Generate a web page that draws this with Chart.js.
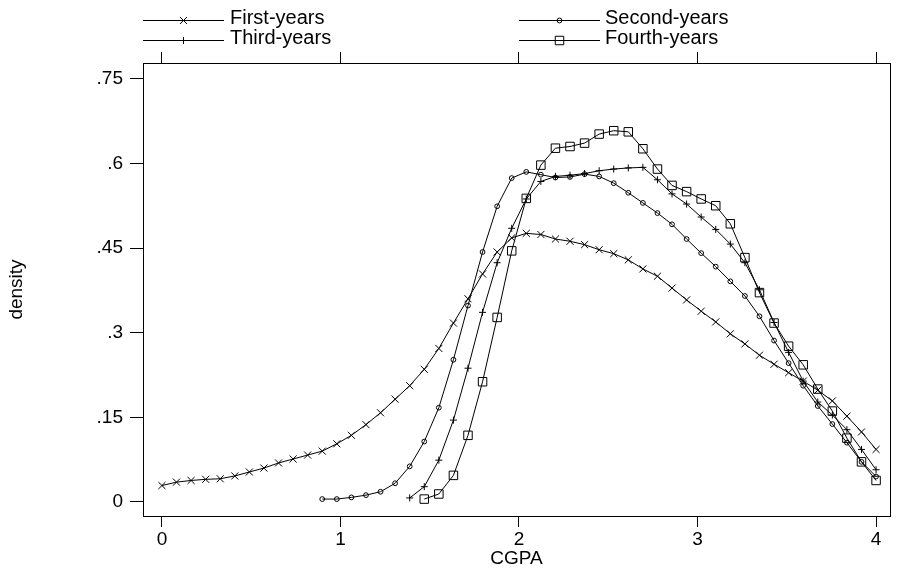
<!DOCTYPE html>
<html>
<head>
<meta charset="utf-8">
<title>CGPA density</title>
<script src="https://cdn.jsdelivr.net/npm/chart.js@4.4.0/dist/chart.umd.min.js"></script>
<style>
    body { margin: 0; background: #ffffff; }
    #wrap { width: 897px; height: 570px; }
</style>
</head>
<body>
<div id="wrap"><canvas id="densplot" width="897" height="570"></canvas></div>
<script>
// kdensity grid (50 points from 0 to 4), shared by all four groups
let cgpa = [0, 0.0816, 0.1633, 0.2449, 0.3265, 0.4082, 0.4898, 0.5714, 0.6531, 0.7347,
    0.8163, 0.8980, 0.9796, 1.0612, 1.1429, 1.2245, 1.3061, 1.3878, 1.4694, 1.5510,
    1.6327, 1.7143, 1.7959, 1.8776, 1.9592, 2.0408, 2.1224, 2.2041, 2.2857, 2.3673,
    2.4490, 2.5306, 2.6122, 2.6939, 2.7755, 2.8571, 2.9388, 3.0204, 3.1020, 3.1837,
    3.2653, 3.3469, 3.4286, 3.5102, 3.5918, 3.6735, 3.7551, 3.8367, 3.9184, 4]

let firstYears = [0.029, 0.035, 0.038, 0.040, 0.041, 0.046, 0.053, 0.060, 0.069, 0.076,
    0.083, 0.090, 0.103, 0.118, 0.137, 0.158, 0.182, 0.206, 0.235, 0.272,
    0.317, 0.360, 0.404, 0.443, 0.468, 0.476, 0.474, 0.466, 0.462, 0.456,
    0.447, 0.440, 0.429, 0.413, 0.400, 0.379, 0.358, 0.338, 0.319, 0.298,
    0.280, 0.260, 0.244, 0.229, 0.214, 0.198, 0.179, 0.152, 0.124, 0.093]

let secondYears = [null, null, null, null, null, null, null, null, null, null,
    null, 0.005, 0.005, 0.008, 0.012, 0.018, 0.033, 0.063, 0.107, 0.167,
    0.252, 0.348, 0.443, 0.524, 0.574, 0.585, 0.580, 0.575, 0.576, 0.581,
    0.577, 0.565, 0.548, 0.530, 0.512, 0.492, 0.466, 0.441, 0.417, 0.391,
    0.365, 0.329, 0.286, 0.246, 0.206, 0.170, 0.138, 0.105, 0.071, 0.045]

let thirdYears = [null, null, null, null, null, null, null, null, null, null,
    null, null, null, null, null, null, null, 0.007, 0.027, 0.074,
    0.145, 0.237, 0.336, 0.424, 0.485, 0.537, 0.568, 0.577, 0.579, 0.582,
    0.587, 0.590, 0.592, 0.593, 0.571, 0.546, 0.528, 0.505, 0.483, 0.457,
    0.424, 0.376, 0.318, 0.265, 0.214, 0.177, 0.154, 0.128, 0.093, 0.057]

let fourthYears = [null, null, null, null, null, null, null, null, null, null,
    null, null, null, null, null, null, null, null, 0.005, 0.014,
    0.047, 0.118, 0.213, 0.327, 0.445, 0.538, 0.597, 0.627, 0.630, 0.636,
    0.652, 0.658, 0.656, 0.626, 0.590, 0.561, 0.550, 0.537, 0.525, 0.493,
    0.433, 0.371, 0.317, 0.276, 0.243, 0.200, 0.161, 0.113, 0.071, 0.038]

let xTicks = [0, 1, 2, 3, 4]
let yTicks = [0, 0.15, 0.3, 0.45, 0.6, 0.75]
let yTickLabels = ["0", ".15", ".3", ".45", ".6", ".75"]

let groupNames = ["First-years", "Second-years", "Third-years", "Fourth-years"]
let groupMarkers = ["crossRot", "circle", "cross", "rect"]
let groupRadius = [5, 2.4, 3.5, 6]

const FONT = "'Liberation Sans', Arial, Helvetica, sans-serif"

function toPoints(vals) {
    let pts = []
    for (let i = 0; i < vals.length; i++) {
        if (vals[i] !== null) pts.push({x: cgpa[i], y: vals[i]})
    }
    return pts
}

let seriesVals = [firstYears, secondYears, thirdYears, fourthYears]
let datasets = []
for (let i = 0; i < seriesVals.length; i++) {
    datasets.push({
        label: groupNames[i],
        data: toPoints(seriesVals[i]),
        borderColor: "#000",
        borderWidth: 1,
        backgroundColor: "rgba(0,0,0,0)",
        pointStyle: groupMarkers[i],
        pointRadius: groupRadius[i],
        pointBorderWidth: 1,
        pointBorderColor: "#000",
        pointBackgroundColor: "rgba(0,0,0,0)",
        tension: 0
    })
}

// legend like stata: two columns, line with marker in the middle
let legendPos = [
    {x0: 143, x1: 224, y: 20.5, tx: 230},
    {x0: 519, x1: 600, y: 20.5, tx: 605},
    {x0: 143, x1: 224, y: 40.5, tx: 230},
    {x0: 519, x1: 600, y: 40.5, tx: 605}
]

const boxAndLegend = {
    id: "boxAndLegend",
    afterDraw(chart) {
        let ctx = chart.ctx
        let a = chart.chartArea
        ctx.save()
        ctx.strokeStyle = "#000"
        ctx.lineWidth = 1
        // right edge of the plot box
        ctx.beginPath()
        ctx.moveTo(Math.round(a.right) + 0.5, Math.round(a.top) + 0.5)
        ctx.lineTo(Math.round(a.right) + 0.5, Math.round(a.bottom) + 0.5)
        ctx.stroke()

        ctx.font = "20px " + FONT
        ctx.fillStyle = "#000"
        ctx.textBaseline = "middle"
        for (let i = 0; i < groupNames.length; i++) {
            let p = legendPos[i]
            ctx.beginPath()
            ctx.moveTo(p.x0, p.y)
            ctx.lineTo(p.x1, p.y)
            ctx.stroke()
            ctx.fillStyle = "rgba(0,0,0,0)"
            Chart.helpers.drawPoint(ctx, {
                pointStyle: groupMarkers[i],
                radius: groupRadius[i],
                borderWidth: 1,
                rotation: 0
            }, (p.x0 + p.x1) / 2, p.y)
            ctx.fillStyle = "#000"
            ctx.fillText(groupNames[i], p.tx, p.y - 2)
        }
        ctx.restore()
    }
}

function fixedTicks(list) {
    return function (scale) {
        scale.ticks = list.map(v => ({value: v}))
    }
}

const config = {
    type: "line",
    data: {datasets: datasets},
    options: {
        responsive: false,
        animation: false,
        devicePixelRatio: 1,
        layout: {padding: {left: 0, right: 7, top: 0, bottom: 0}},
        plugins: {legend: {display: false}, tooltip: {enabled: false}},
        scales: {
            x: {
                type: "linear",
                position: "bottom",
                min: -0.106,
                max: 4.078,
                afterBuildTicks: fixedTicks(xTicks),
                afterFit: function (s) { s.height = 54 },
                grid: {drawOnChartArea: false, drawTicks: true, tickLength: 11, color: "#000"},
                border: {display: true, color: "#000", width: 1},
                ticks: {
                    color: "#000", padding: 1, maxRotation: 0,
                    font: {family: FONT, size: 19},
                    callback: v => String(v)
                },
                title: {
                    display: true, text: "CGPA", color: "#000",
                    font: {family: FONT, size: 19},
                    padding: {top: 0, bottom: 0}
                }
            },
            xTop: {
                type: "linear",
                position: "top",
                min: -0.106,
                max: 4.078,
                afterBuildTicks: fixedTicks(xTicks),
                afterFit: function (s) { s.height = 63 },
                grid: {drawOnChartArea: false, drawTicks: true, tickLength: 11, color: "#000"},
                border: {display: true, color: "#000", width: 1},
                ticks: {display: false}
            },
            y: {
                type: "linear",
                min: -0.025,
                max: 0.778,
                afterBuildTicks: fixedTicks(yTicks),
                afterFit: function (s) { s.width = 143 },
                grid: {drawOnChartArea: false, drawTicks: true, tickLength: 13, color: "#000"},
                border: {display: true, color: "#000", width: 1},
                ticks: {
                    color: "#000", padding: 7,
                    font: {family: FONT, size: 19},
                    callback: function (v) {
                        let k = yTicks.indexOf(v)
                        return k >= 0 ? yTickLabels[k] : ""
                    }
                },
                title: {
                    display: true, text: "density", color: "#000",
                    font: {family: FONT, size: 19},
                    padding: {top: 5, bottom: 4}
                }
            }
        }
    },
    plugins: [boxAndLegend]
}

let chart = new Chart(document.getElementById("densplot"), config)
</script>
</body>
</html>
